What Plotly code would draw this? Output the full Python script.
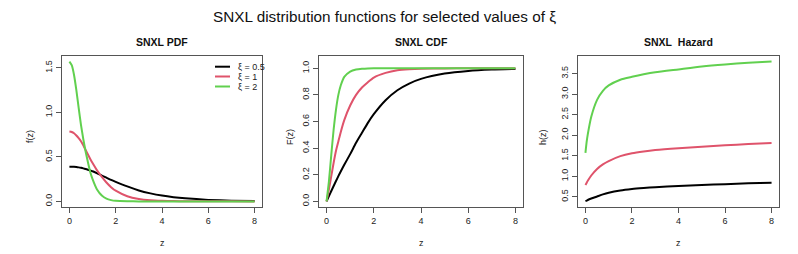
import plotly.graph_objects as go

W, H = 798, 254

# ---------------- data ----------------
series_names = ["ξ = 0.5", "ξ = 1", "ξ = 2"]
series_colors = ["#000000", "#DF536B", "#61D04F"]

z_pdf = [0, 0.1, 0.2, 0.3, 0.4, 0.5, 0.6, 0.7, 0.8, 0.9, 1.0, 1.2, 1.4, 1.6, 1.8,
         2.0, 2.5, 3.0, 3.5, 4.0, 4.5, 5.0, 6.0, 7.0, 8.0]
pdf_xi05 = [0.39, 0.39, 0.389, 0.386, 0.382, 0.377, 0.371, 0.364, 0.356, 0.347, 0.338,
            0.315, 0.29, 0.266, 0.242, 0.22, 0.168, 0.123, 0.09, 0.065, 0.047, 0.034,
            0.017, 0.008, 0.004]
pdf_xi1 = [0.785, 0.78, 0.765, 0.74, 0.71, 0.675, 0.63, 0.578, 0.527, 0.477, 0.43,
           0.345, 0.275, 0.212, 0.16, 0.12, 0.058, 0.027, 0.012, 0.006, 0.003, 0.0015,
           0.0005, 0.0002, 0.0001]
pdf_xi2 = [1.57, 1.53, 1.42, 1.25, 1.05, 0.86, 0.70, 0.56, 0.44, 0.33, 0.25,
           0.13, 0.065, 0.03, 0.014, 0.006, 0.001, 0.0, 0.0, 0.0, 0.0, 0.0,
           0.0, 0.0, 0.0]

z_cdf = [0, 0.1, 0.2, 0.3, 0.4, 0.5, 0.6, 0.75, 1.0, 1.25, 1.5, 1.75, 2.0, 2.5, 3.0,
         3.5, 4.0, 5.0, 6.0, 7.0, 8.0]
cdf_xi05 = [0, 0.039, 0.078, 0.116, 0.153, 0.19, 0.225, 0.275, 0.355, 0.44, 0.515,
            0.59, 0.655, 0.76, 0.835, 0.885, 0.92, 0.96, 0.98, 0.99, 0.995]
cdf_xi1 = [0, 0.09, 0.19, 0.29, 0.38, 0.45, 0.52, 0.61, 0.72, 0.80, 0.855, 0.895,
           0.93, 0.965, 0.985, 0.993, 0.997, 0.999, 1.0, 1.0, 1.0]
cdf_xi2 = [0, 0.15, 0.35, 0.54, 0.69, 0.80, 0.87, 0.935, 0.975, 0.99, 0.996, 0.999,
           1.0, 1.0, 1.0, 1.0, 1.0, 1.0, 1.0, 1.0, 1.0]

z_haz = [0, 0.05, 0.1, 0.25, 0.5, 0.75, 1.0, 1.5, 2.0, 2.5, 3.0, 4.0, 5.0, 6.0, 7.0, 8.0]
haz_xi05 = [0.40, 0.41, 0.425, 0.46, 0.51, 0.56, 0.60, 0.655, 0.69, 0.715, 0.735,
            0.765, 0.79, 0.81, 0.83, 0.845]
haz_xi1 = [0.79, 0.84, 0.89, 1.02, 1.18, 1.29, 1.37, 1.49, 1.56, 1.605, 1.64, 1.685,
           1.72, 1.755, 1.785, 1.81]
haz_xi2 = [1.57, 1.83, 2.02, 2.45, 2.86, 3.08, 3.21, 3.35, 3.42, 3.48, 3.53, 3.60,
           3.67, 3.72, 3.76, 3.79]

x_ticks = [0, 2, 4, 6, 8]
pdf_ticks = [0.0, 0.5, 1.0, 1.5]
cdf_ticks = [0.0, 0.2, 0.4, 0.6, 0.8, 1.0]
haz_ticks = [0.5, 1.0, 1.5, 2.0, 2.5, 3.0, 3.5]

main_title = "SNXL distribution functions for selected values of ξ"
panel_titles = ["SNXL PDF", "SNXL CDF", "SNXL\u00a0 Hazard"]
y_titles = ["f(z)", "F(z)", "h(z)"]

# ---------------- layout helpers ----------------
FONT = "Liberation Sans, Arial, sans-serif"
box_px = [(62, 262), (319, 523), (578, 779)]
top_px, bot_px = 56, 207
ydom = [1 - bot_px / H, 1 - top_px / H]

panels = [
    (z_pdf, [pdf_xi05, pdf_xi1, pdf_xi2], pdf_ticks, [-0.063, 1.633]),
    (z_cdf, [cdf_xi05, cdf_xi1, cdf_xi2], cdf_ticks, [-0.042, 1.092]),
    (z_haz, [haz_xi05, haz_xi1, haz_xi2], haz_ticks, [0.254, 3.926]),
]

fig = go.Figure()
layout = dict(
    width=W, height=H, margin=dict(l=0, r=0, t=0, b=0),
    paper_bgcolor="white", plot_bgcolor="white", showlegend=False,
    font=dict(family=FONT, size=9, color="#222"),
)

annotations = [dict(text=main_title, x=384 / W, y=1 - 17 / H, xref="paper", yref="paper",
                    showarrow=False, xanchor="center", yanchor="middle",
                    font=dict(family=FONT, size=15.3, color="#111"))]
shapes = []
ytitle_px = [30, 290, 543]

for i, (zs, ys_list, yt, yr) in enumerate(panels):
    n = "" if i == 0 else str(i + 1)
    for ys, nm, col in zip(ys_list, series_names, series_colors):
        fig.add_trace(go.Scatter(x=zs, y=ys, mode="lines", name=nm,
                                 line=dict(color=col, width=2, shape="spline", smoothing=0.6),
                                 xaxis="x" + n, yaxis="y" + n))
    x0, x1 = box_px[i]
    axstyle = dict(showline=True, mirror=True, linecolor="#555", linewidth=1,
                   ticks="outside", ticklen=5, tickcolor="#555", showgrid=False,
                   zeroline=False, tickfont=dict(family=FONT, size=9, color="#222"))
    layout["xaxis" + n] = dict(domain=[x0 / W, x1 / W], range=[-0.32, 8.32],
                               tickvals=x_ticks, anchor="y" + n, **axstyle)
    layout["yaxis" + n] = dict(domain=ydom, range=yr, tickvals=yt, tickformat=".1f",
                               tickangle=-90, anchor="x" + n, **axstyle)
    cx = (x0 + x1) / 2 / W
    annotations.append(dict(text="<b>" + panel_titles[i] + "</b>", x=cx, y=1 - 42 / H,
                            xref="paper", yref="paper", showarrow=False,
                            xanchor="center", yanchor="middle",
                            font=dict(family=FONT, size=10.5, color="#111")))
    annotations.append(dict(text="z", x=cx, y=1 - 243 / H, xref="paper", yref="paper",
                            showarrow=False, xanchor="center", yanchor="middle",
                            font=dict(family=FONT, size=9, color="#222")))
    annotations.append(dict(text=y_titles[i], x=ytitle_px[i] / W, y=1 - 137 / H,
                            xref="paper", yref="paper", showarrow=False, textangle=-90,
                            xanchor="center", yanchor="middle",
                            font=dict(family=FONT, size=9, color="#222")))

# legend (PDF panel, top right)
leg_rows_px = [66.7, 76.5, 86.5]
for nm, col, ry in zip(series_names, series_colors, leg_rows_px):
    shapes.append(dict(type="line", xref="paper", yref="paper",
                       x0=215 / W, x1=230 / W, y0=1 - ry / H, y1=1 - ry / H,
                       line=dict(color=col, width=2)))
    annotations.append(dict(text=nm, x=236 / W, y=1 - ry / H, xref="paper", yref="paper",
                            showarrow=False, xanchor="left", yanchor="middle",
                            font=dict(family=FONT, size=9, color="#222")))

layout["annotations"] = annotations
layout["shapes"] = shapes
fig.update_layout(**layout)
fig.write_html("out.html", config={"displayModeBar": False},
               post_script="document.body.style.margin='0';document.body.style.overflow='hidden';")
